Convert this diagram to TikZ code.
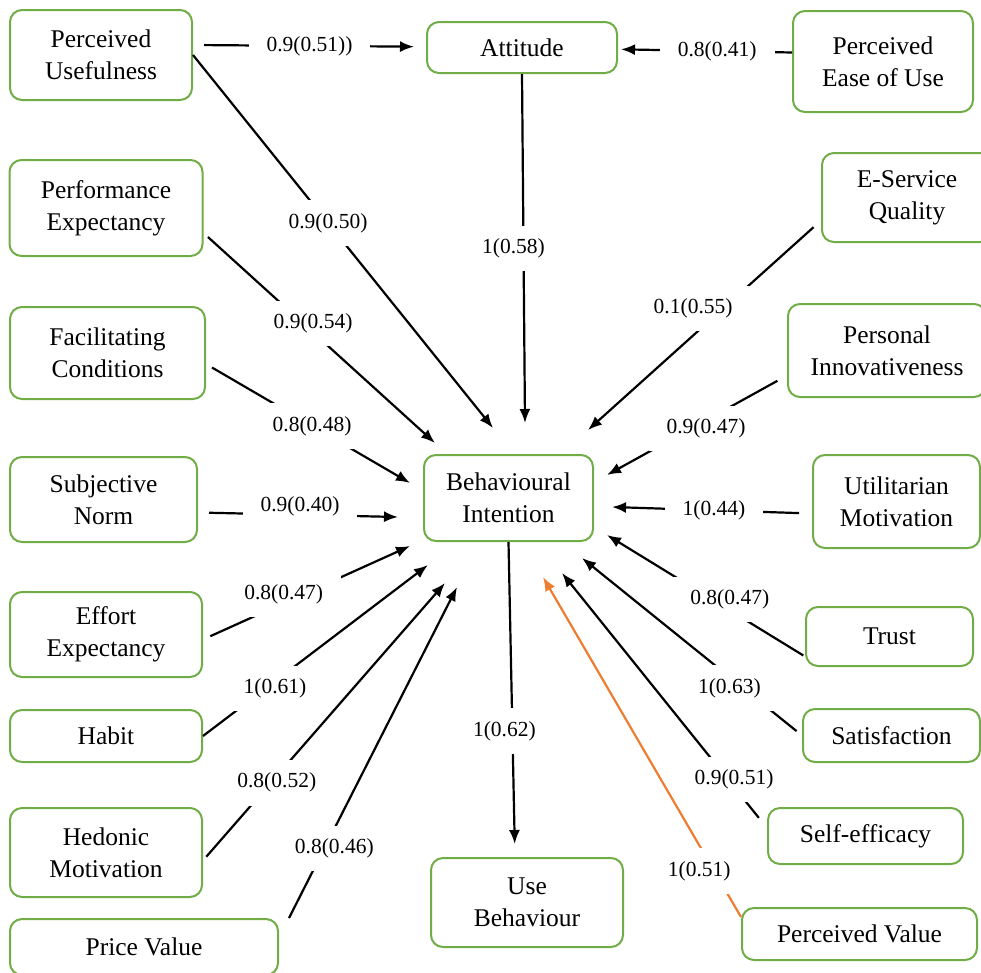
\documentclass[tikz,border=0pt]{standalone}
\usepackage{fontspec}
\setmainfont{Liberation Serif}
\usetikzlibrary{arrows.meta}
\definecolor{boxgreen}{HTML}{70AD47}
\definecolor{linkorange}{HTML}{ED7D31}

\begin{document}
\begin{tikzpicture}[x=1pt, y=-1pt,
    box/.style={draw=boxgreen, line width=2pt, rounded corners=12pt, align=center, inner sep=0pt, font=\fontsize{25.5}{32}\selectfont},
    link/.style={black, line width=2.2pt, -{Latex[length=14pt,width=11pt]}},
    lbl/.style={fill=white, text=black, inner xsep=18pt, inner ysep=13pt, font=\fontsize{21.5}{26}\selectfont}]
        \useasboundingbox (0,0) rectangle (981,972);

        %% left column
        \node[box, minimum width=182pt, minimum height=90pt] (pu) at (101,55) {Perceived\\Usefulness};
        \node[box, minimum width=193pt, minimum height=96pt] (pe) at (106,208) {Performance\\Expectancy};
        \node[box, minimum width=195pt, minimum height=92pt] (fc) at (107.5,353) {Facilitating\\Conditions};
        \node[box, minimum width=187pt, minimum height=85pt] (sn) at (103.5,499.5) {Subjective\\Norm};
        \node[box, minimum width=192pt, minimum height=85pt] (ee) at (106,634.5) {Effort\\Expectancy};
        \node[box, minimum width=192pt, minimum height=52pt] (hb) at (106,736) {Habit};
        \node[box, minimum width=192pt, minimum height=89pt] (hm) at (106,852.5) {Hedonic\\Motivation};
        \node[box, minimum width=268pt, minimum height=56pt] (prv) at (144,947) {Price Value};

        %% top row
        \node[box, minimum width=190pt, minimum height=51pt] (att) at (522,47.5) {Attitude};
        \node[box, minimum width=180pt, minimum height=101pt] (peou) at (883,61.5) {Perceived\\Ease of Use};

        %% right column
        \node[box, minimum width=170pt, minimum height=89pt] (esq) at (907,197.5) {E-Service\\Quality};
        \node[box, minimum width=198pt, minimum height=93pt] (pi) at (887,350.5) {Personal\\Innovativeness};
        \node[box, minimum width=167pt, minimum height=93pt] (um) at (896.5,501.5) {Utilitarian\\Motivation};
        \node[box, minimum width=167pt, minimum height=59pt] (tr) at (889.5,636.5) {Trust};
        \node[box, minimum width=177pt, minimum height=53pt] (sat) at (891.5,735.5) {Satisfaction};
        \node[box, minimum width=195pt, minimum height=56pt] (se) at (865.5,836) {Self-efficacy};
        \node[box, minimum width=235pt, minimum height=52pt] (pv) at (859.5,934) {Perceived Value};

        %% centre
        \node[box, minimum width=169pt, minimum height=86pt] (bi) at (508.5,498) {Behavioural\\Intention};
        \node[box, minimum width=192pt, minimum height=89pt] (ub) at (527,902.5) {Use\\Behaviour};

        %% arrow ends round the intention box
        \coordinate (in-pu) at (493,428);
        \coordinate (in-att) at (525,423);
        \coordinate (in-pe) at (435,443);
        \coordinate (in-esq) at (588,430);
        \coordinate (in-fc) at (410,483);
        \coordinate (in-pi) at (607,475);
        \coordinate (in-sn) at (398,517);
        \coordinate (in-um) at (612,507);
        \coordinate (in-ee) at (410,546);
        \coordinate (in-tr) at (607,535);
        \coordinate (in-hb) at (428,565);
        \coordinate (in-sat) at (582,558);
        \coordinate (in-hm) at (445,583);
        \coordinate (in-se) at (562,573);
        \coordinate (in-prv) at (457,587);
        \coordinate (in-pv) at (543,577);

        %% paths to attitude
        \draw[link, shorten <=11pt, shorten >=12pt] ([yshift=10pt]pu.east) -- node[lbl, pos=.5] {0.9(0.51))} (att);
        \draw[link, shorten >=3pt] ([yshift=9pt]peou.west) -- node[lbl, pos=.43] {0.8(0.41)} (att);

        %% paths to behavioural intention
        \draw[link] (pu.east) -- node[lbl, pos=.45] {0.9(0.50)} (in-pu);
        \draw[link] (att.south) -- node[lbl, pos=.5, xshift=-10pt] {1(0.58)} (in-att);
        \draw[link, shorten <=6pt] ([yshift=-25pt]pe.east) -- node[lbl, pos=.43, xshift=10pt] {0.9(0.54)} (in-pe);
        \draw[link, shorten <=10pt] ([yshift=-23pt]esq.west) -- node[lbl, pos=.42, xshift=-30pt] {0.1(0.55)} (in-esq);
        \draw[link, shorten <=7pt] ([yshift=-11pt]fc.east) -- node[lbl, pos=.52] {0.8(0.48)} (in-fc);
        \draw[link, shorten <=11pt] ([yshift=-25pt]pi.west) -- node[lbl, pos=.45, yshift=-8pt] {0.9(0.47)} (in-pi);
        \draw[link, shorten <=11pt] ([yshift=-13pt]sn.east) -- node[lbl, pos=.51, yshift=8pt] {0.9(0.40)} (in-sn);
        \draw[link, shorten <=13pt] ([yshift=-12pt]um.west) -- node[lbl, pos=.49] {1(0.44)} (in-um);
        \draw[link, shorten <=8pt] ([yshift=-5pt]ee.east) -- node[lbl, pos=.39, yshift=9pt] {0.8(0.47)} (in-ee);
        \draw[link, shorten <=2pt] ([yshift=-20pt]tr.west) -- node[lbl, pos=.38, yshift=11pt] {0.8(0.47)} (in-tr);
        \draw[link] (hb.east) -- node[lbl, pos=.32, yshift=-7pt] {1(0.61)} (in-hb);
        \draw[link, shorten <=7pt] (sat.west) -- node[lbl, pos=.33, yshift=-11pt] {1(0.63)} (in-sat);
        \draw[link, shorten <=5pt] ([yshift=-8pt]hm.east) -- node[lbl, pos=.28, xshift=6pt] {0.8(0.52)} (in-hm);
        \draw[link, shorten <=13pt] ([yshift=8pt]se.west) -- node[lbl, pos=.19, xshift=6pt] {0.9(0.51)} (in-se);
        \draw[link] ([xshift=10pt]prv.north east) -- node[lbl, pos=.21, xshift=10pt] {0.8(0.46)} (in-prv);
        \draw[link, linkorange] ([yshift=-10pt]pv.north west) -- node[lbl, pos=.135, xshift=-15pt] {1(0.51)} (in-pv);

        %% intention to use
        \draw[link, shorten >=13pt] (bi.south) -- node[lbl, pos=.6, xshift=-8pt] {1(0.62)} ([xshift=-12pt]ub.north);
\end{tikzpicture}
\end{document}
